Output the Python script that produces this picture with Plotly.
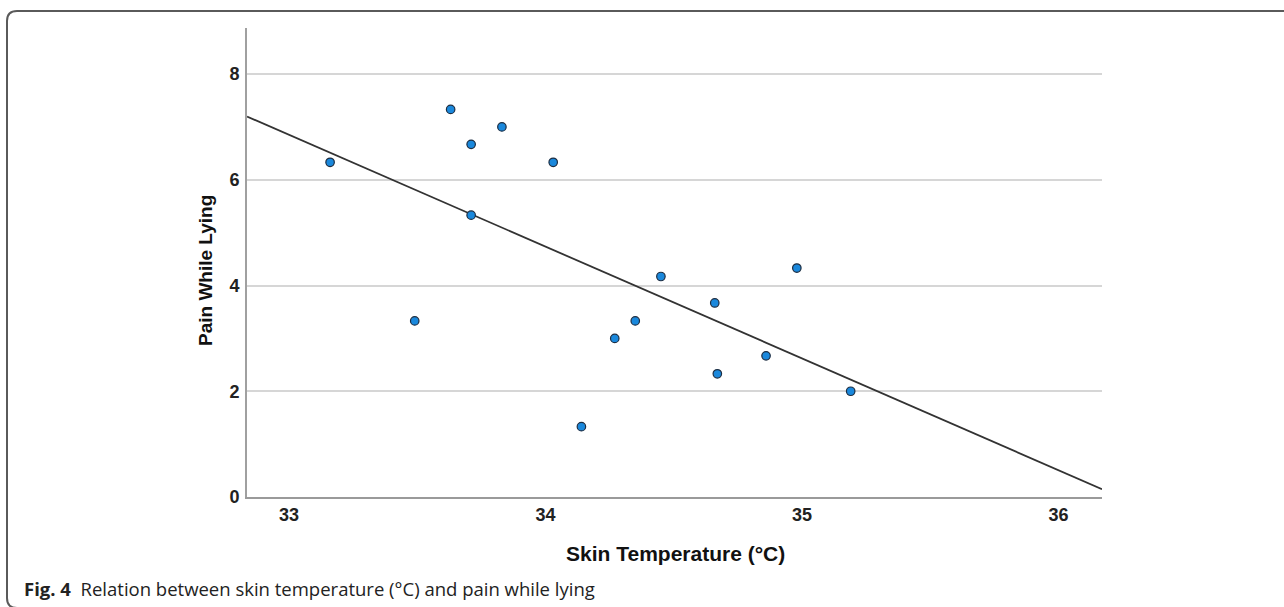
import numpy as np
import plotly.graph_objects as go

# Data
skin_temp = [33.16, 33.49, 33.63, 33.71, 33.71, 33.83, 34.03, 34.14,
             34.27, 34.35, 34.45, 34.66, 34.67, 34.86, 34.98, 35.19]
pain_lying = [6.33, 3.33, 7.33, 6.67, 5.33, 7.00, 6.33, 1.33,
              3.00, 3.33, 4.17, 3.67, 2.33, 2.67, 4.33, 2.00]
x_ticks = [33, 34, 35, 36]
y_ticks = [0, 2, 4, 6, 8]
x_range = [32.836, 36.17]
y_range = [0, 8.87]

W, H = 1284, 607
L, R, T, B = 247, 1102, 28, 497

def px(x):
    return (x - L) / (R - L)

def py(y):
    return (B - y) / (B - T)

slope, intercept = np.polyfit(skin_temp, pain_lying, 1)
fit_x = np.array(x_range)
fit_y = slope * fit_x + intercept

fig = go.Figure()
fig.add_trace(go.Scatter(
    x=fit_x, y=fit_y, mode="lines",
    line=dict(color="#333333", width=1.8),
    hoverinfo="skip", showlegend=False, cliponaxis=True))
fig.add_trace(go.Scatter(
    x=skin_temp, y=pain_lying, mode="markers",
    marker=dict(size=8.5, color="#1a88dc", line=dict(color="#1c2d42", width=1.2)),
    showlegend=False, cliponaxis=False))

# Frame (rounded border, partly cropped by the image)
def P(x, y):
    return f"{px(x):.5f},{py(y):.5f}"

frame = (f"M {P(1300, 11)} L {P(17, 11)} Q {P(7, 11)} {P(7, 21)} "
         f"L {P(7, 598)} Q {P(7, 608)} {P(17, 608)} L {P(1300, 608)}")

fig.update_layout(
    width=W, height=H,
    margin=dict(l=L, r=W - R, t=T, b=H - B),
    paper_bgcolor="white", plot_bgcolor="white",
    xaxis=dict(range=x_range, tickvals=x_ticks, showgrid=False, zeroline=False,
               showline=True, linecolor="#9a9a9a", linewidth=2,
               ticks="", ticklabelstandoff=0,
               tickfont=dict(family="Liberation Sans", size=18, color="#222222", weight="bold")),
    yaxis=dict(range=y_range, tickvals=y_ticks, showgrid=True, gridcolor="#d6d6d6",
               gridwidth=2, zeroline=False, showline=True, linecolor="#a0a0a0",
               linewidth=2, ticks="", ticklabelstandoff=2,
               tickfont=dict(family="Liberation Sans", size=18, color="#222222", weight="bold")),
    shapes=[dict(type="path", path=frame, xref="paper", yref="paper",
                 line=dict(color="#5a5a5a", width=2), layer="above")],
    annotations=[
        dict(text="Skin Temperature (°C)", xref="paper", yref="paper",
             x=px(675), y=py(553), showarrow=False, xanchor="center", yanchor="middle",
             font=dict(family="Liberation Sans", size=21, color="#111111", weight="bold")),
        dict(text="Pain While Lying", xref="paper", yref="paper",
             x=px(205), y=py(271), showarrow=False, textangle=-90,
             xanchor="center", yanchor="middle",
             font=dict(family="Liberation Sans", size=19, color="#111111", weight="bold")),
        dict(text="<b>Fig. 4</b>  Relation between skin temperature (°C) and pain while lying",
             xref="paper", yref="paper", x=px(22), y=py(588), showarrow=False,
             xanchor="left", yanchor="middle",
             font=dict(family="Open Sans", size=18.5, color="#222222")),
    ],
)

fig.write_html("out.html")
